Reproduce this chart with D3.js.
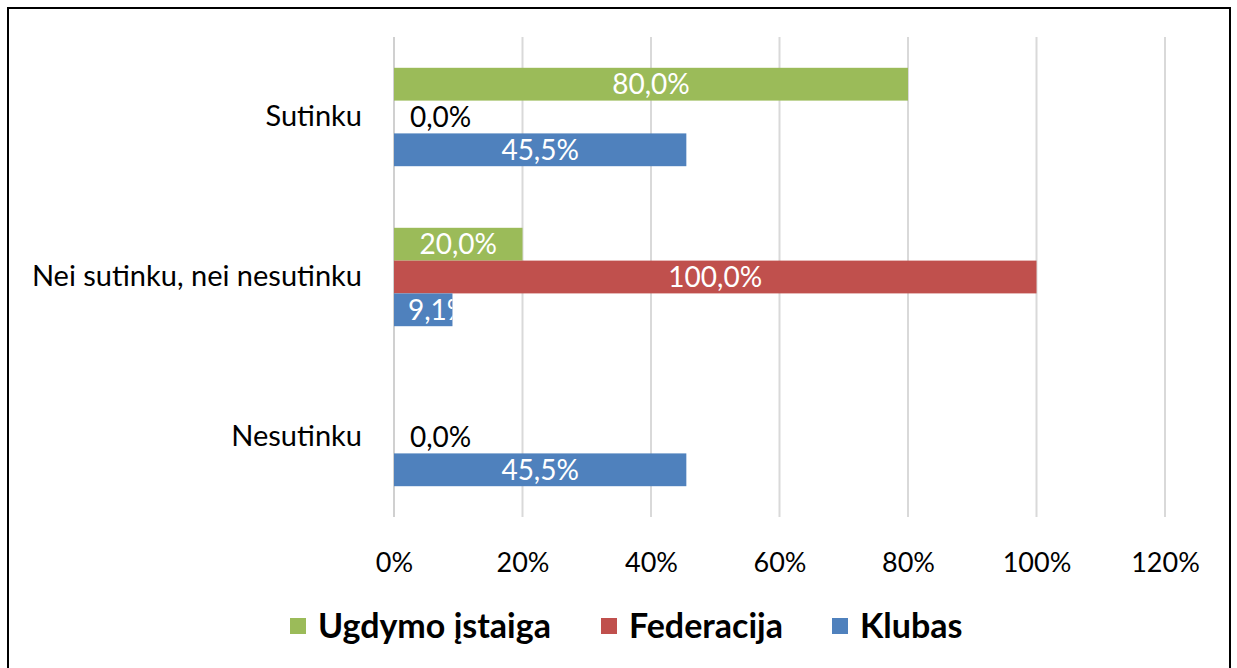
<!DOCTYPE html>
<html><head><meta charset="utf-8">
<script src="https://cdn.jsdelivr.net/npm/d3@7"></script>
<style>
html,body{margin:0;padding:0;background:#fff;}
text{font-family:Lato,"Open Sans",sans-serif;}
</style></head>
<body>
<svg id="chart" width="1237" height="668"></svg>
<script>
const categories = ["Sutinku", "Nei sutinku, nei nesutinku", "Nesutinku"];
const seriesNames = ["Ugdymo įstaiga", "Federacija", "Klubas"];
const seriesColors = ["#9BBB59", "#C0504D", "#4F81BD"];
const ugdymo = [80.0, 20.0, null];
const federacija = [0.0, 100.0, 0.0];
const klubas = [45.5, 9.1, 45.5];
const tickValues = [0, 20, 40, 60, 80, 100, 120];

const seriesValues = [ugdymo, federacija, klubas];
const svg = d3.select("#chart");

// frame
svg.append("rect").attr("x", 8).attr("y", 8).attr("width", 1222).attr("height", 668)
  .attr("fill", "#fff").attr("stroke", "#000").attr("stroke-width", 2);

const plot = {left: 394, right: 1165, top: 37, bottom: 517};
const x = d3.scaleLinear().domain([0, 120]).range([plot.left, plot.right]);
const y0 = d3.scaleBand().domain(categories).range([plot.top, plot.bottom]).paddingInner(0.385).paddingOuter(0.1925);
const y1 = d3.scaleBand().domain(seriesNames).range([0, y0.bandwidth()]);

// gridlines
svg.append("g").selectAll("line").data(tickValues).join("line")
  .attr("x1", d => x(d)).attr("x2", d => x(d))
  .attr("y1", plot.top).attr("y2", plot.bottom)
  .attr("stroke", d => d === 0 ? "#d0d0d0" : "#d9d9d9").attr("stroke-width", 2);

// x axis labels
const xAxis = d3.axisBottom(x).tickValues(tickValues).tickFormat(d => d + "%").tickSize(0).tickPadding(0);
const xg = svg.append("g").attr("transform", `translate(0,${plot.bottom + 45})`).call(xAxis);
xg.select(".domain").remove();
xg.selectAll("text").attr("font-size", 27).attr("fill", "#000").attr("dy", "0.36em")
  .style("font-family", "Lato, sans-serif");

// category labels
const yAxis = d3.axisLeft(y0).tickSize(0).tickPadding(32);
const yg = svg.append("g").attr("transform", `translate(${plot.left},0)`).call(yAxis);
yg.select(".domain").remove();
yg.selectAll("text").attr("font-size", 29).attr("fill", "#000")
  .style("font-family", "Lato, sans-serif");

const defs = svg.append("defs");
const fmt = v => v.toFixed(1).replace(".", ",") + "%";

categories.forEach((cat, ci) => {
  seriesNames.forEach((s, si) => {
    const v = seriesValues[si][ci];
    if (v === null) return;
    const by = y0(cat) + y1(s);
    const bh = y1.bandwidth();
    const bw = x(v) - x(0);
    if (v > 0) {
      svg.append("rect").attr("x", x(0)).attr("y", by).attr("width", bw).attr("height", bh)
        .attr("fill", seriesColors[si]);
      const id = `clip-${ci}-${si}`;
      defs.append("clipPath").attr("id", id).append("rect")
        .attr("x", x(0)).attr("y", by).attr("width", bw).attr("height", bh);
      const t = svg.append("text").attr("clip-path", `url(#${id})`)
        .attr("x", x(0) + bw / 2).attr("y", by + bh / 2).attr("dy", "0.36em")
        .attr("text-anchor", "middle").attr("font-size", 28).attr("fill", "#fff")
        .text(fmt(v));
      const tw = t.node().getComputedTextLength();
      if (tw + 28 > bw) {
        t.attr("text-anchor", "start").attr("x", x(0) + 14);
      }
    } else {
      svg.append("text").attr("x", x(0) + 16).attr("y", by + bh / 2).attr("dy", "0.36em")
        .attr("text-anchor", "start").attr("font-size", 28).attr("fill", "#000")
        .text(fmt(v));
    }
  });
});

// legend
const legendItems = [
  {name: seriesNames[0], color: seriesColors[0], sx: 290, tx: 318},
  {name: seriesNames[1], color: seriesColors[1], sx: 601, tx: 629},
  {name: seriesNames[2], color: seriesColors[2], sx: 832, tx: 860}
];
const lg = svg.append("g");
legendItems.forEach(it => {
  lg.append("rect").attr("x", it.sx).attr("y", 618).attr("width", 16).attr("height", 16).attr("fill", it.color);
  lg.append("text").attr("x", it.tx).attr("y", 626).attr("dy", "0.36em")
    .attr("font-size", 34).attr("font-weight", "bold").attr("fill", "#000").text(it.name);
});
</script>
</body></html>
